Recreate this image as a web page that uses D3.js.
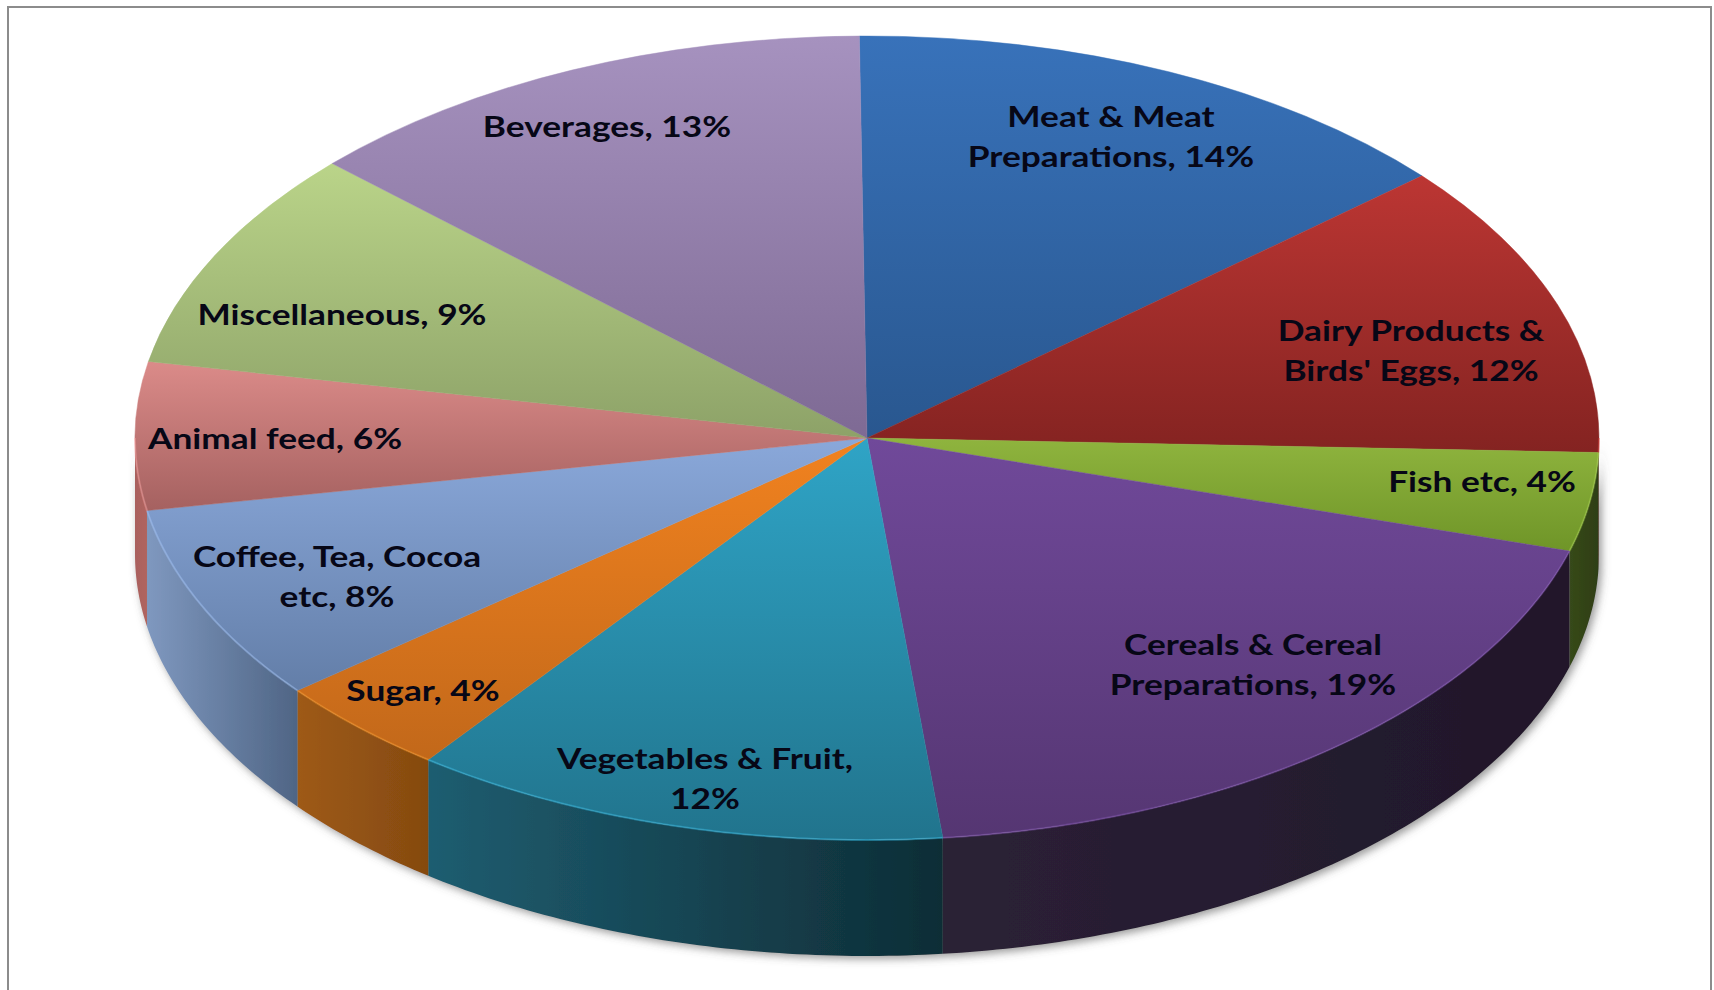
<!DOCTYPE html>
<html>
<head>
<meta charset="utf-8">
<script src="https://cdnjs.cloudflare.com/ajax/libs/d3/7.8.5/d3.min.js"></script>
<style>
  html, body { margin: 0; padding: 0; background: #fff; overflow: hidden; }
  svg { display: block; }
  text { font-family: Lato, "Open Sans", sans-serif; font-weight: 700; }
</style>
</head>
<body>
<svg id="chart" width="1714" height="990"></svg>
<script>
// Export shares by commodity group, clockwise from twelve o'clock
const categories = ["Meat & Meat Preparations", "Dairy Products & Birds' Eggs", "Fish etc",
  "Cereals & Cereal Preparations", "Vegetables & Fruit", "Sugar", "Coffee, Tea, Cocoa etc",
  "Animal feed", "Miscellaneous", "Beverages"];
const shares = [14, 12, 4, 19, 12, 4, 8, 6, 9, 13];

// Wrapped label lines
const labelLines = [
  ["Meat & Meat", "Preparations, 14%"],
  ["Dairy Products &", "Birds' Eggs, 12%"],
  ["Fish etc, 4%"],
  ["Cereals & Cereal", "Preparations, 19%"],
  ["Vegetables & Fruit,", "12%"],
  ["Sugar, 4%"],
  ["Coffee, Tea, Cocoa", "etc, 8%"],
  ["Animal feed, 6%"],
  ["Miscellaneous, 9%"],
  ["Beverages, 13%"]
];

// Label centres relative to the pie centre (first line)
const labelOffsets = [
  [244, -321], [544, -107], [615, 44], [386, 207], [-162, 321],
  [-444, 253], [-530, 119], [-592, 1], [-525, -123], [-260, -311]
];

// Colours: face top, face bottom, wall left, wall right
const faceTop = ["#3872ba", "#bc3633", "#8fb43e", "#70499a", "#2fa4c6", "#f1821f", "#8aa8da", "#db8b89", "#bad489", "#a692bf"];
const faceBottom = ["#29578f", "#842321", "#6f9528", "#553672", "#21748d", "#c2681a", "#637ea8", "#a56160", "#8da268", "#7e6a94"];
const wallLeft = ["#23497a", "#7a201e", "#37491a", "#2b2136", "#1e5d70", "#9e5a16", "#7f98bf", "#a9605d", "#7d9a50", "#6f5a88"];
const wallRight = ["#23497a", "#7a201e", "#2e3e14", "#20172a", "#0e2d36", "#854a10", "#4f6585", "#b0655f", "#7d9a50", "#6f5a88"];

const width = 1714, height = 990;
const cx = 867, cy = 438, rx = 732, ry = 402, depth = 116;

// The first slice boundary sits just left of vertical
const startTilt = -0.6 * Math.PI / 180;

const svg = d3.select("#chart");
const defs = svg.append("defs");

const slices = d3.pie().sort(null)
  .startAngle(startTilt).endAngle(2 * Math.PI + startTilt)(shares);

slices.forEach((s, i) => {
  const face = defs.append("linearGradient").attr("id", `face${i}`)
    .attr("x1", 0).attr("y1", 0).attr("x2", 0).attr("y2", 1);
  face.append("stop").attr("offset", 0).attr("stop-color", faceTop[i]);
  face.append("stop").attr("offset", 1).attr("stop-color", faceBottom[i]);

  const wall = defs.append("linearGradient").attr("id", `wall${i}`)
    .attr("x1", 0).attr("y1", 0).attr("x2", 1).attr("y2", 0);
  wall.append("stop").attr("offset", 0).attr("stop-color", wallLeft[i]);
  wall.append("stop").attr("offset", 1).attr("stop-color", wallRight[i]);
});

// Soft shadow thrown by the pie's rim
const shadow = defs.append("filter").attr("id", "rimShadow")
  .attr("x", "-5%").attr("y", "-10%").attr("width", "110%").attr("height", "125%");
shadow.append("feDropShadow").attr("dx", 3).attr("dy", 3)
  .attr("stdDeviation", 4).attr("flood-color", "#555").attr("flood-opacity", 0.6);

// Outer frame, running off the bottom of the page
svg.append("rect")
  .attr("x", 8).attr("y", 7).attr("width", 1703).attr("height", 1000)
  .attr("fill", "#fff").attr("stroke", "#8c8c8c").attr("stroke-width", 2);

const pieGroup = svg.append("g").attr("transform", `translate(${cx},${cy})`);

// Point on the rim of the flattened disc; angles run clockwise from the top
const rimX = a => rx * Math.sin(a);
const rimY = a => -ry * Math.cos(a);

// Front-facing part of a slice, or null when it lies entirely behind the disc
function frontSpan(s) {
  const a0 = Math.max(s.startAngle, Math.PI / 2);
  const a1 = Math.min(s.endAngle, 3 * Math.PI / 2);
  return a1 > a0 ? [a0, a1] : null;
}

function rimAngles(a0, a1) {
  const n = Math.max(2, Math.ceil((a1 - a0) * 80));
  return d3.range(n + 1).map(k => a0 + (a1 - a0) * k / n);
}

const rimLine = d3.line().x(a => rimX(a)).y(a => rimY(a));
const wallArea = d3.area().x(a => rimX(a)).y0(a => rimY(a)).y1(a => rimY(a) + depth);

// Walls
pieGroup.append("g").attr("filter", "url(#rimShadow)")
  .selectAll("path")
  .data(slices.filter(frontSpan))
  .join("path")
  .attr("d", s => wallArea(rimAngles(...frontSpan(s))))
  .attr("fill", s => `url(#wall${s.index})`);

// Top faces, drawn as a circular arc and flattened
const arc = d3.arc().innerRadius(0).outerRadius(rx);
pieGroup.append("g")
  .attr("transform", `scale(1,${ry / rx})`)
  .selectAll("path")
  .data(slices)
  .join("path")
  .attr("d", arc)
  .attr("fill", s => `url(#face${s.index})`)
  .attr("stroke", s => `url(#face${s.index})`)
  .attr("stroke-width", 0.6);

// Pale highlight along the front rim
pieGroup.append("g")
  .selectAll("path")
  .data(slices.filter(frontSpan))
  .join("path")
  .attr("d", s => rimLine(rimAngles(...frontSpan(s))))
  .attr("fill", "none")
  .attr("stroke", s => d3.color(faceTop[s.index]).brighter(0.5))
  .attr("stroke-opacity", 0.4)
  .attr("stroke-width", 2);

// Data labels, widened to the chart's broad lettering
const fontSize = 28, lineGap = 40, labelStretch = 1.26;
pieGroup.append("g")
  .selectAll("text")
  .data(slices)
  .join("text")
  .attr("text-anchor", "middle")
  .attr("fill", "#070716")
  .attr("font-size", fontSize)
  .attr("transform", `scale(${labelStretch},1)`)
  .each(function (s) {
    const [dx, dy] = labelOffsets[s.index];
    const lines = labelLines[s.index];
    d3.select(this).selectAll("tspan")
      .data(lines)
      .join("tspan")
      .attr("x", dx / labelStretch)
      .attr("y", (_, k) => dy + k * lineGap + 10)
      .text(d => d);
  });
</script>
</body>
</html>
